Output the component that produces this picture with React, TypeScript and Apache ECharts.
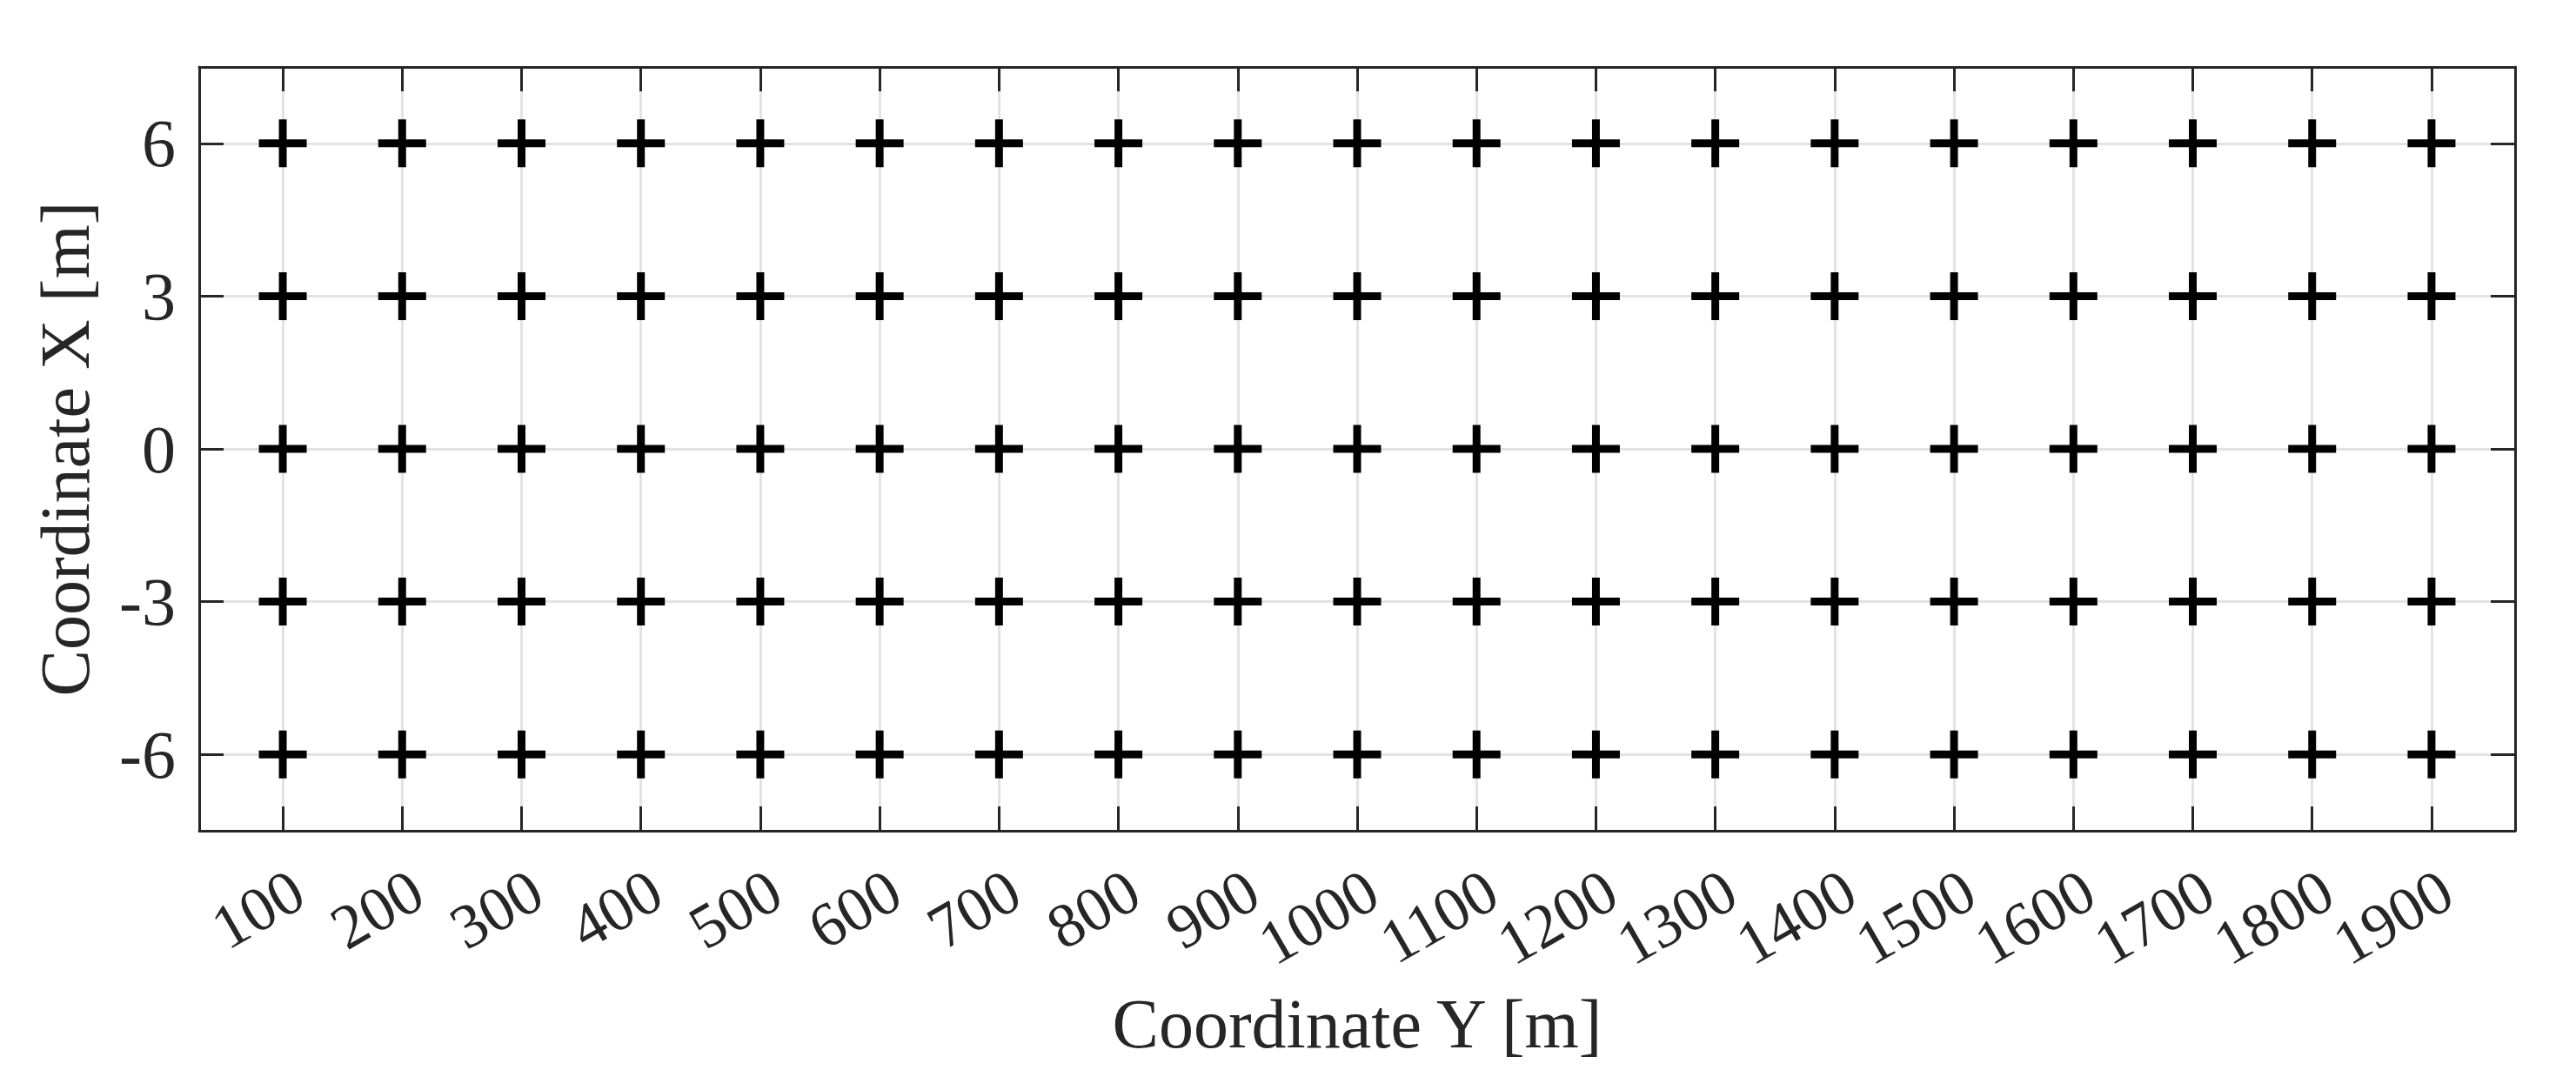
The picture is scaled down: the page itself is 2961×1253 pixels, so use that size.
import React, { useEffect, useRef } from "react";
import * as echarts from "echarts";

// Horizontal axis: "Coordinate Y [m]"; vertical axis: "Coordinate X [m]"
const coordYPositions = [100, 200, 300, 400, 500, 600, 700, 800, 900, 1000, 1100, 1200, 1300, 1400, 1500, 1600, 1700, 1800, 1900];
const coordXPositions = [6, 3, 0, -3, -6];

const hTickValues = [100, 200, 300, 400, 500, 600, 700, 800, 900, 1000, 1100, 1200, 1300, 1400, 1500, 1600, 1700, 1800, 1900];
const vTickValues = [-6, -3, 0, 3, 6];

const hMin = 30;
const hMax = 1970;
const vMin = -7.5;
const vMax = 7.5;

// A blank label slot just inside the right edge, so that ECharts' min/max
// label overlap heuristic never hides the real 1800/1900 labels.
const hLabelSlots = [...hTickValues, hMax - 0.5];

const AXIS_COLOR = "#262626";
const GRID_COLOR = "#e3e3e3";
const FONT = "'Liberation Serif', 'DejaVu Serif', serif";
const PLUS = "path://M22.6,0H31.4V22.6H54V31.4H31.4V54H22.6V31.4H0V22.6H22.6Z";

export default function App() {
  const ref = useRef<HTMLDivElement>(null);

  useEffect(() => {
    if (!ref.current) return;
    const chart = echarts.init(ref.current, undefined, { renderer: "svg" });

    const points: number[][] = [];
    coordXPositions.forEach((xv) => {
      coordYPositions.forEach((yv) => points.push([yv, xv]));
    });

    const lineStyle = { color: AXIS_COLOR, width: 3 };

    chart.setOption({
      animation: false,
      backgroundColor: "#ffffff",
      grid: { left: 229, right: 70, top: 77, bottom: 298, containLabel: false },
      xAxis: [
        {
          type: "value",
          position: "bottom",
          min: hMin,
          max: hMax,
          name: "Coordinate Y [m]",
          nameLocation: "middle",
          nameGap: 182,
          nameTextStyle: { fontFamily: FONT, fontSize: 80, color: AXIS_COLOR },
          axisLine: { show: true, onZero: false, lineStyle },
          axisTick: { show: true, inside: true, length: 28, lineStyle, customValues: hTickValues },
          axisLabel: {
            show: true,
            customValues: hLabelSlots,
            hideOverlap: false,
            rotate: 30,
            align: "right",
            verticalAlign: "top",
            margin: 32,
            fontFamily: FONT,
            fontSize: 72,
            color: AXIS_COLOR,
            formatter: (v: number) => (hTickValues.indexOf(v) >= 0 ? String(v) : ""),
          },
          splitLine: { show: true, lineStyle: { color: GRID_COLOR, width: 3 } },
        },
        {
          type: "value",
          position: "top",
          min: hMin,
          max: hMax,
          axisLine: { show: true, onZero: false, lineStyle },
          axisTick: { show: true, inside: true, length: 28, lineStyle, customValues: hTickValues },
          axisLabel: { show: false },
          splitLine: { show: false },
        },
      ],
      yAxis: [
        {
          type: "value",
          position: "left",
          min: vMin,
          max: vMax,
          name: "Coordinate X [m]",
          nameLocation: "middle",
          nameGap: 114,
          nameRotate: 90,
          nameTextStyle: { fontFamily: FONT, fontSize: 80, color: AXIS_COLOR },
          axisLine: { show: true, onZero: false, lineStyle },
          axisTick: { show: true, inside: true, length: 28, lineStyle, customValues: vTickValues },
          axisLabel: {
            show: true,
            customValues: vTickValues,
            showMinLabel: true,
            showMaxLabel: true,
            margin: 27,
            fontFamily: FONT,
            fontSize: 78,
            color: AXIS_COLOR,
            formatter: (v: number) => String(v),
          },
          splitLine: { show: true, lineStyle: { color: GRID_COLOR, width: 3 } },
        },
        {
          type: "value",
          position: "right",
          min: vMin,
          max: vMax,
          axisLine: { show: true, onZero: false, lineStyle },
          axisTick: { show: true, inside: true, length: 28, lineStyle, customValues: vTickValues },
          axisLabel: { show: false },
          splitLine: { show: false },
        },
      ],
      series: [
        {
          type: "scatter",
          xAxisIndex: 0,
          yAxisIndex: 0,
          data: points,
          symbol: PLUS,
          symbolSize: 55,
          itemStyle: { color: "#000000", opacity: 1 },
          z: 5,
        },
      ],
    });

    return () => chart.dispose();
  }, []);

  return (
    <div
      ref={ref}
      style={{ position: "fixed", left: 0, top: 0, width: 2961, height: 1253, background: "#ffffff" }}
    />
  );
}
